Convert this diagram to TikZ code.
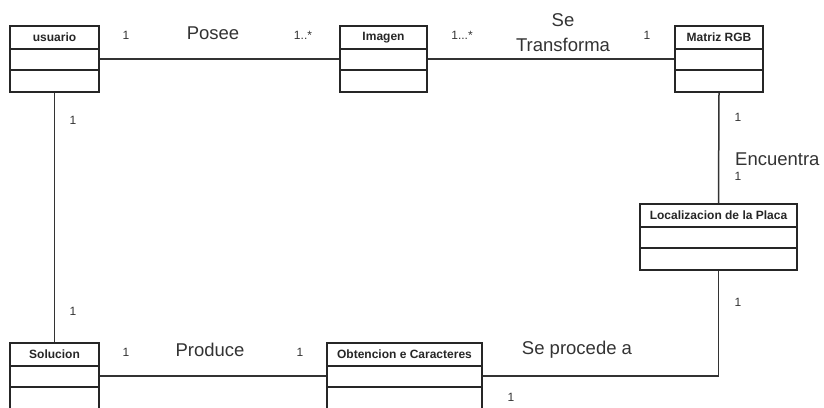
\documentclass[tikz,border=0pt]{standalone}
\usepackage{fontspec}
\setmainfont{Liberation Sans}
\begin{document}
\begin{tikzpicture}[x=1pt,y=-1pt,
  ink/.style={draw=black!85, line width=1.7pt},
  cls/.style={ink, rectangle, inner sep=0pt, minimum height=66pt},
  ttl/.style={font=\fontsize{12}{14}\selectfont\bfseries, text=black!85, inner sep=0pt},
  big/.style={font=\fontsize{18.5}{20}\selectfont, text=black!80, inner sep=0pt},
  mult/.style={font=\fontsize{12}{14}\selectfont, text=black!80, inner sep=0pt},
  wire/.style={draw=black!80, line width=1.5pt}]
\useasboundingbox (0,0) rectangle (824,407);
\begin{scope}
\clip (0,0) rectangle (824,407);
% classes
\node[cls, minimum width=89pt] (usuario) at (54.5,59) {};
\node[cls, minimum width=87pt] (imagen) at (383.5,59) {};
\node[cls, minimum width=88pt] (matriz) at (719,59) {};
\node[cls, minimum width=157pt] (loc) at (718.5,237) {};
\node[cls, minimum width=89pt] (sol) at (54.5,376) {};
\node[cls, minimum width=155pt] (obt) at (404.5,376) {};
\foreach \c in {usuario,imagen,matriz,loc,sol,obt}{
  \draw[ink] ([yshift=-24pt]\c.north west) -- ([yshift=-24pt]\c.north east);
  \draw[ink] ([yshift=-45pt]\c.north west) -- ([yshift=-45pt]\c.north east);
}
\node[ttl] (tusuario) at ([yshift=-12pt]usuario.north) {usuario};
\node[ttl] (timagen) at ([yshift=-12pt]imagen.north) {Imagen};
\node[ttl] (tmatriz) at ([yshift=-12pt]matriz.north) {Matriz RGB};
\node[ttl] (tloc) at ([yshift=-12pt]loc.north) {Localizacion de la Placa};
\node[ttl] (tsol) at ([yshift=-12pt]sol.north) {Solucion};
\node[ttl] (tobt) at ([yshift=-12pt]obt.north) {Obtencion e Caracteres};
% connectors
\draw[wire] (usuario.east) -- (imagen.west);
\draw[wire] (imagen.east) -- (matriz.west);
\draw[wire] (matriz.south) -- (loc.north);
\draw[wire] (usuario.south) -- (sol.north);
\draw[wire] (sol.east) -- (obt.east -| obt.west);
\draw[wire] (loc.south) |- (obt.east);
\end{scope}
% labels
\node[mult] (m1) at (126,35) {1};
\node[big] (posee) at (213,33) {Posee};
\node[mult] (m2) at (303,35) {1..*};
\node[mult] (m3) at (462,35) {1...*};
\node[big] (se) at (563,20) {Se};
\node[big] (transf) at (563,45) {Transforma};
\node[mult] (m4) at (647,35) {1};
\node[mult] (m5) at (738,117) {1};
\node[big, anchor=west] (enc) at (735,159) {Encuentra};
\node[mult] (m6) at (738,176) {1};
\node[mult] (m7) at (73,120) {1};
\node[mult] (m8) at (73,311) {1};
\node[mult] (m9) at (126,352) {1};
\node[big] (prod) at (210,350) {Produce};
\node[mult] (m10) at (300,352) {1};
\node[mult] (m11) at (738,302) {1};
\node[big] (proc) at (577,350) {Se procede a};
\node[mult] (m12) at (511,397) {1};
\end{tikzpicture}
\end{document}
